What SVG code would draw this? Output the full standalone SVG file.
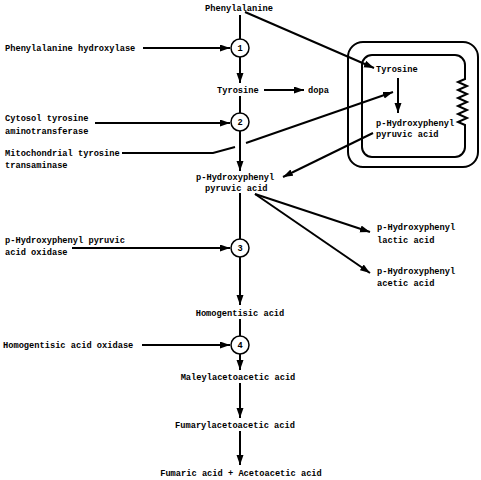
<svg xmlns="http://www.w3.org/2000/svg" width="481" height="480" viewBox="0 0 481 480">
<defs>
<marker id="ah" markerUnits="userSpaceOnUse" markerWidth="11" markerHeight="8" refX="10" refY="3.5" orient="auto">
<path d="M0,0 L10,3.5 L0,7 Z" fill="#000"/>
</marker>
<style>
text{font-family:"Liberation Mono","DejaVu Sans Mono",monospace;font-size:8.7px;font-weight:bold;fill:#000}
.c{text-anchor:middle}
.ln{stroke:#000;stroke-width:2;fill:none}
.ar{stroke:#000;stroke-width:2;fill:none;marker-end:url(#ah)}
.cir{stroke:#000;stroke-width:1.5;fill:#fff}
.box{stroke:#000;stroke-width:2;fill:none}
</style>
</defs>
<rect width="481" height="480" fill="#fff"/>
<g id="connectors">
<line class="ln" x1="240" y1="15" x2="240" y2="39"/>
<line class="ar" x1="240" y1="57" x2="240" y2="83"/>
<line class="ar" x1="264" y1="90" x2="304" y2="90"/>
<line class="ln" x1="240" y1="96" x2="240" y2="113"/>
<line class="ar" x1="240" y1="131" x2="240" y2="171"/>
<line class="ln" x1="240" y1="193" x2="240" y2="239"/>
<line class="ar" x1="240" y1="257" x2="240" y2="305"/>
<line class="ln" x1="240" y1="319" x2="240" y2="336"/>
<line class="ar" x1="240" y1="354" x2="240" y2="370"/>
<line class="ar" x1="240" y1="383" x2="240" y2="418"/>
<line class="ar" x1="240" y1="431" x2="240" y2="465"/>
<line class="ar" x1="143" y1="48" x2="230" y2="48"/>
<line class="ar" x1="95" y1="123" x2="230" y2="123"/>
<line class="ar" x1="72" y1="248" x2="230" y2="248"/>
<line class="ar" x1="142" y1="345" x2="230" y2="345"/>
<polyline class="ln" points="122,153 213,153 235,147"/>
<line class="ar" x1="246" y1="143" x2="393" y2="92"/>
<line class="ar" x1="245" y1="12" x2="374" y2="68"/>
<line class="ar" x1="398" y1="78" x2="398" y2="113"/>
<line class="ar" x1="373" y1="133" x2="283" y2="177"/>
<line class="ar" x1="255" y1="194" x2="370" y2="232"/>
<line class="ar" x1="255" y1="194" x2="370" y2="273"/>
</g>
<g id="mito-box">
<rect class="box" x="348" y="42" width="130" height="125" rx="15"/>
<path class="box" d="M372,55 H455 A10,10 0 0 1 465,65 V79 L458,82 L467,86 L458,90 L467,94 L458,98 L467,102 L458,106 L467,110 L458,114 L467,118 L458,122 L465,125 V147 A10,10 0 0 1 455,157 H372 A10,10 0 0 1 362,147 V65 A10,10 0 0 1 372,55 Z"/>
</g>
<g id="phe"><text class="c" x="239" y="11">Phenylalanine</text></g>
<g id="e1"><circle class="cir" cx="240" cy="48" r="9"/><text class="c" x="240" y="51">1</text></g>
<g id="tyr"><text x="217" y="93">Tyrosine</text></g>
<g id="dopa"><text x="308" y="93">dopa</text></g>
<g id="e2"><circle class="cir" cx="240" cy="122" r="9"/><text class="c" x="240" y="125">2</text></g>
<g id="phpp"><text x="196" y="180">p-Hydroxyphenyl</text><text x="205" y="191">pyruvic acid</text></g>
<g id="e3"><circle class="cir" cx="240" cy="248" r="9"/><text class="c" x="240" y="251">3</text></g>
<g id="hga"><text class="c" x="240" y="316">Homogentisic acid</text></g>
<g id="e4"><circle class="cir" cx="240" cy="345" r="9"/><text class="c" x="240" y="348">4</text></g>
<g id="maa"><text class="c" x="238" y="380">Maleylacetoacetic acid</text></g>
<g id="faa"><text class="c" x="235" y="428">Fumarylacetoacetic acid</text></g>
<g id="fum"><text class="c" x="241" y="476">Fumaric acid + Acetoacetic acid</text></g>
<g id="enz1"><text x="5" y="51">Phenylalanine hydroxylase</text></g>
<g id="enz2"><text x="5" y="121">Cytosol tyrosine</text><text x="5" y="134">aminotransferase</text></g>
<g id="enz2m"><text x="5" y="156">Mitochondrial tyrosine</text><text x="5" y="168">transaminase</text></g>
<g id="enz3"><text x="5" y="243">p-Hydroxyphenyl pyruvic</text><text x="5" y="255">acid oxidase</text></g>
<g id="enz4"><text x="3" y="348">Homogentisic acid oxidase</text></g>
<g id="mtyr"><text x="376" y="72">Tyrosine</text></g>
<g id="mphpp"><text x="376" y="126">p-Hydroxyphenyl</text><text x="376" y="137">pyruvic acid</text></g>
<g id="lactic"><text x="377" y="230">p-Hydroxyphenyl</text><text x="377" y="243">lactic acid</text></g>
<g id="acetic"><text x="377" y="274">p-Hydroxyphenyl</text><text x="377" y="286">acetic acid</text></g>
</svg>
